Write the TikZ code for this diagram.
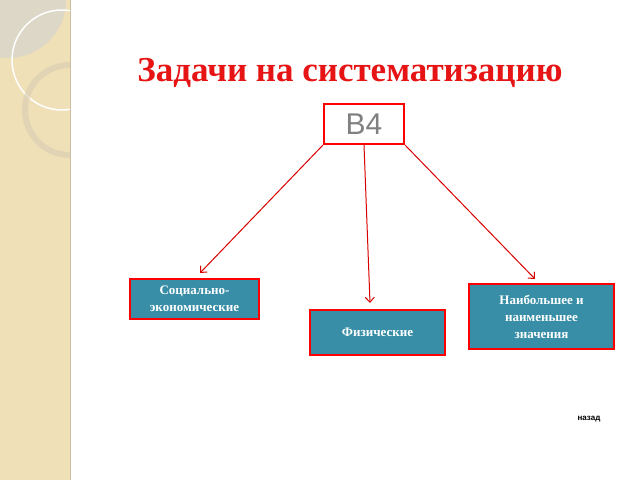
\documentclass[tikz,border=0pt]{standalone}
\usepackage{fontspec}
\setmainfont{Liberation Serif}
\newfontfamily\labelfont{Liberation Sans}
\usetikzlibrary{arrows.meta}
\definecolor{boxteal}{RGB}{56,142,166}
\definecolor{strip}{RGB}{240,224,184}
\definecolor{stripedge}{RGB}{205,192,160}
\definecolor{titlered}{RGB}{230,20,20}

\begin{document}
\begin{tikzpicture}[
	x=1pt, y=-1pt
	,topic/.style={draw=red, line width=2pt, fill=boxteal, text=white, font=\bfseries\fontsize{13}{17}\selectfont, align=center, inner sep=0pt}
	,link/.style={draw=red!85!black, line width=1pt, -{Straight Barb[length=5pt, width=9pt]}}
]
	\useasboundingbox (0,0) rectangle (640,480);
	% left decorative strip
	\fill[strip] (0,0) rectangle (70,480);
	\draw[stripedge, line width=1pt] (70,0) -- (70,480);
	\begin{scope}
		\clip (0,0) rectangle (70,480);
		\fill[black!18, opacity=.6] (8,0) circle (58);
		\draw[white, line width=1.5pt] (62,60) circle (50);
		\draw[stripedge!80, line width=6pt, opacity=.6] (70,110) circle (45);
	\end{scope}
	% title
	\node[text=titlered, font=\bfseries\fontsize{35}{40}\selectfont] (title) at (350,73) {Задачи на систематизацию};
	% boxes
	\node[draw=red, line width=2pt, fill=white, text=gray, font=\labelfont\fontsize{30}{32}\selectfont, minimum width=80pt, minimum height=40pt, inner sep=0pt] (B4) at (364,124) {B4};
	\node[topic, minimum width=129pt, minimum height=40pt] (social) at (194.5,299) {Социально-\\экономические};
	\node[topic, minimum width=135pt, minimum height=45pt] (phys) at (377.5,332.5) {Физические};
	\node[topic, minimum width=145pt, minimum height=65pt] (extr) at (541.5,316.5) {Наибольшее и\\наименьшее\\значения};
	% arrows
	\coordinate (socialtip) at (200,273);
	\coordinate (phystip) at (370,303);
	\coordinate (extrtip) at (535,279);
	\draw[link] (B4.south west) -- (socialtip);
	\draw[link] (B4.south) -- (phystip);
	\draw[link] (B4.south east) -- (extrtip);
	\node[font=\labelfont\bfseries\fontsize{8}{9}\selectfont] (back) at (589,419) {назад};
\end{tikzpicture}
\end{document}
